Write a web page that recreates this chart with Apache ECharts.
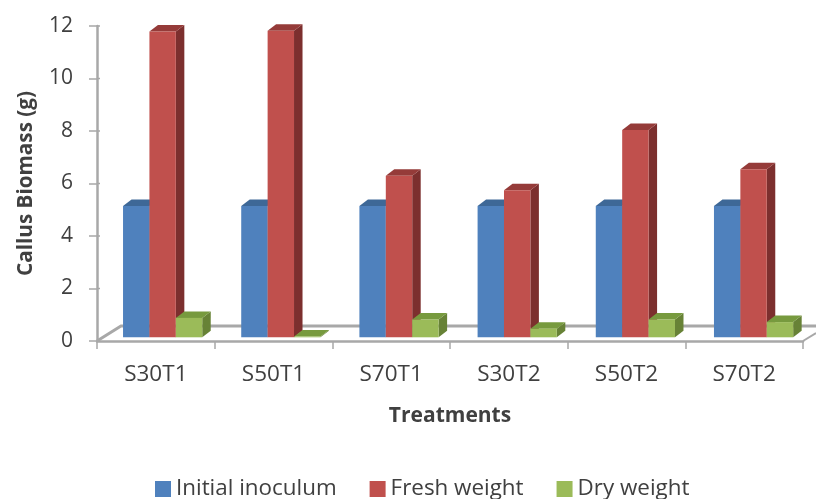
<!DOCTYPE html>
<html><head><meta charset="utf-8">
<style>html,body{margin:0;padding:0;background:#fff}#c{width:816px;height:499px}</style>
<script src="https://cdn.jsdelivr.net/npm/echarts@6/dist/echarts.min.js"></script>
</head><body><div id="c"></div>
<script>
const categories = ['S30T1','S50T1','S70T1','S30T2','S50T2','S70T2'];
const initialInoculum = [5, 5, 5, 5, 5, 5];
const freshWeight = [11.65, 11.68, 6.15, 5.6, 7.9, 6.4];
const dryWeight = [0.74, 0.03, 0.68, 0.33, 0.68, 0.58];
const yTicks = {min: 0, max: 12, interval: 2};

const FONT = '"Open Sans","Noto Sans",sans-serif';
const TXT = '#404040';
const AXIS = '#A8A8A8';
const BW = 26.4, DX = 8.5, DY = 6.5, SHIFT_X = 6.8, DRIFT_X = 0.52, SHIFT_Y = 3.7;

function bar3d(index, face, side, top) {
  return function (params, api) {
    const cat = api.value(0), v = api.value(1);
    const cx = api.coord([cat, 0])[0];
    const y0 = api.coord([cat, 0])[1] - SHIFT_Y;
    const y1 = api.coord([cat, v])[1] - SHIFT_Y;
    const x0 = cx + SHIFT_X + DRIFT_X * cat + (index - 1.5) * BW;
    const x1 = x0 + BW;
    return {type: 'group', children: [
      {type: 'polygon', shape: {points: [[x1, y0], [x1 + DX, y0 - DY], [x1 + DX, y1 - DY], [x1, y1]]}, style: {fill: side}},
      {type: 'polygon', shape: {points: [[x0, y1], [x0 + DX, y1 - DY], [x1 + DX, y1 - DY], [x1, y1]]}, style: {fill: top}},
      {type: 'rect', shape: {x: x0, y: y1, width: BW, height: y0 - y1}, style: {fill: face}}
    ]};
  };
}
function floor(params, api) {
  const a = api.coord([0, 0]), b = api.coord([categories.length - 1, 0]);
  const half = (b[0] - a[0]) / (categories.length - 1) / 2;
  const l = a[0] - half, r = b[0] + half, y = a[1];
  const children = [
    {type: 'polyline', shape: {points: [[l, y], [l + 24, y - 15], [816, y - 15]]}, style: {stroke: AXIS, lineWidth: 3, fill: 'none'}},
    {type: 'line', shape: {x1: r, y1: y, x2: 816, y2: y - 8}, style: {stroke: AXIS, lineWidth: 2, fill: 'none'}}
  ];
  for (let t = yTicks.min; t <= yTicks.max; t += yTicks.interval) {
    const yy = api.coord([0, t])[1];
    children.push({type: 'line', shape: {x1: l, y1: yy, x2: l + 3, y2: yy}, style: {stroke: AXIS, lineWidth: 1.5}});
  }
  return {type: 'group', children};
}
function series(name, data, index, face, side, top) {
  return {
    name, type: 'custom', clip: false, silent: true,
    itemStyle: {color: face},
    encode: {x: 0, y: 1},
    renderItem: bar3d(index, face, side, top),
    data: data.map((v, i) => [i, v])
  };
}
const chart = echarts.init(document.getElementById('c'), null, {renderer: 'canvas'});
chart.setOption({
  animation: false,
  backgroundColor: '#fff',
  grid: {left: 97, right: 13, top: 26, bottom: 158},
  legend: {
    left: 150, top: 473, itemWidth: 16, itemHeight: 16, itemGap: 33, icon: 'rect',
    data: ['Initial inoculum', 'Fresh weight', 'Dry weight'],
    textStyle: {fontFamily: FONT, fontSize: 22.4, color: TXT}
  },
  xAxis: {
    type: 'category', data: categories, boundaryGap: true,
    name: 'Treatments', nameLocation: 'middle', nameGap: 65,
    nameTextStyle: {fontFamily: FONT, fontSize: 21, fontWeight: 'bold', color: TXT},
    axisLine: {show: true, lineStyle: {color: AXIS, width: 2.5}},
    axisTick: {show: true, alignWithLabel: false, length: 8, lineStyle: {color: AXIS, width: 1.5}},
    axisLabel: {fontFamily: FONT, fontSize: 22.5, color: TXT, margin: 22}
  },
  yAxis: {
    type: 'value', min: yTicks.min, max: yTicks.max, interval: yTicks.interval,
    name: 'Callus Biomass (g)', nameLocation: 'middle', nameGap: 60, nameRotate: 90,
    nameTextStyle: {fontFamily: FONT, fontSize: 20.7, fontWeight: 'bold', color: TXT},
    splitLine: {show: false},
    axisLine: {show: true, lineStyle: {color: AXIS, width: 2.5}},
    axisTick: {show: true, length: 8, lineStyle: {color: AXIS, width: 1.5}},
    axisLabel: {fontFamily: FONT, fontSize: 21, color: TXT, margin: 24, padding: [4, 0, 0, 0]}
  },
  series: [
    {type: 'custom', silent: true, clip: false, renderItem: floor, data: [[0, 0]], encode: {x: 0, y: 1}, legendHoverLink: false},
    series('Initial inoculum', initialInoculum, 0, '#4F81BD', '#3A6090', '#3E6897'),
    series('Fresh weight', freshWeight, 1, '#C0504D', '#7C2F2E', '#953B39'),
    series('Dry weight', dryWeight, 2, '#9BBB59', '#678236', '#779A3E')
  ]
});
</script></body></html>
